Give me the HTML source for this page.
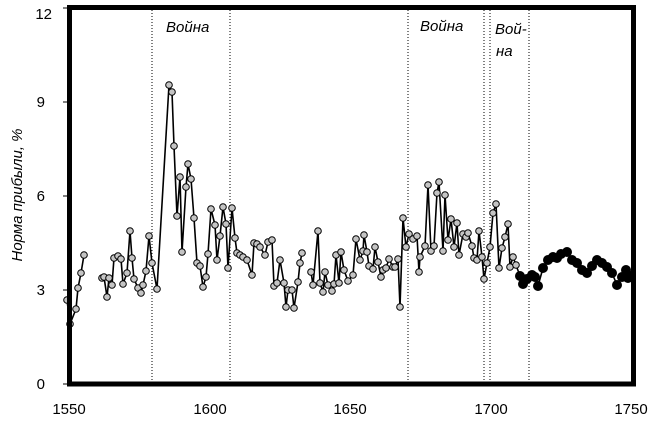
<!DOCTYPE html>
<html><head><meta charset="utf-8"><style>
body{margin:0;background:#fff;}
svg{display:block;font-family:"Liberation Sans",sans-serif;}
</style></head><body>
<svg width="650" height="429" viewBox="0 0 650 429" xmlns="http://www.w3.org/2000/svg">
<rect width="650" height="429" fill="#fff"/>
<g stroke="#000" stroke-width="1" stroke-dasharray="1,2">
<line x1="152" y1="10" x2="152" y2="382"/>
<line x1="230" y1="10" x2="230" y2="382"/>
<line x1="408" y1="10" x2="408" y2="382"/>
<line x1="484" y1="10" x2="484" y2="382"/>
<line x1="490" y1="10" x2="490" y2="382"/>
<line x1="529" y1="10" x2="529" y2="382"/>
</g>
<g font-style="italic" font-size="15" fill="#000">
<text x="166" y="32">Война</text>
<text x="420" y="31">Война</text>
<text x="495" y="34">Вой-</text>
<text x="496" y="56">на</text>
</g>
<g id="series"></g>
<rect x="69.5" y="7.5" width="564" height="376.5" fill="none" stroke="#000" stroke-width="5"/>
<g stroke="#000" stroke-width="1">
<line x1="63" y1="384" x2="67" y2="384"/><line x1="63" y1="290" x2="67" y2="290"/>
<line x1="63" y1="196" x2="67" y2="196"/><line x1="63" y1="102" x2="67" y2="102"/>
<line x1="63" y1="8" x2="67" y2="8"/>
</g>
<g font-size="15" fill="#000" text-anchor="end">
<text x="45" y="389">0</text><text x="45" y="295">3</text><text x="45" y="201">6</text>
<text x="45" y="107">9</text><text x="52" y="19">12</text>
</g>
<g font-size="15" fill="#000" text-anchor="middle">
<text x="69" y="414">1550</text><text x="210" y="414">1600</text><text x="350" y="414">1650</text>
<text x="491" y="414">1700</text><text x="631" y="414">1750</text>
</g>
<text transform="translate(22,195) rotate(-90)" font-size="15" font-style="italic" text-anchor="middle">Норма прибыли, %</text>
</svg>
<script>
var seg1=[[67,300],[70,324],[76,309],[78,288],[81,273],[84,255]];
var seg2=[[102,278],[104,277],[107,297],[109,278],[112,285],[114,258],[118,256],[121,259],[123,284],[127,273],[130,231],[132,258],[134,279],[138,288],[141,293],[143,285],[146,271],[149,236],[152,263],[157,289],[169,85],[172,92],[174,146],[177,216],[180,177],[182,252],[186,187],[188,164],[191,179],[194,218],[197,263],[200,266],[203,287],[206,277],[208,254],[211,209],[215,225],[217,260],[220,236],[223,207],[226,224],[228,268],[232,208],[235,238],[237,253],[240,255],[243,257],[247,260],[252,275],[254,243],[257,244],[260,247],[265,255],[268,242],[272,240],[274,286],[277,283],[280,260],[284,283],[286,307],[288,290],[292,290],[294,308],[298,282],[300,263],[302,253]];
var seg3=[[311,272],[313,285],[318,231],[320,283],[323,292],[325,272],[328,285],[332,291],[334,284],[336,255],[339,283],[341,252],[344,270],[348,281],[353,275],[356,239],[360,260],[363,251],[364,235],[367,252],[369,266],[373,269],[375,247],[378,262],[381,277],[383,270],[386,268],[389,259],[393,267],[395,267],[398,259],[400,307],[403,218],[406,247],[409,234],[413,239],[417,236],[419,272],[420,257],[425,246],[428,185],[431,251],[434,246],[437,193],[439,182],[443,251],[445,195],[448,240],[451,219],[454,247],[457,223],[459,255],[463,234],[466,237],[468,233],[472,246],[474,258],[477,260],[479,231],[482,257],[484,279],[487,263],[490,247],[493,213],[496,204],[499,268],[502,248],[505,237],[508,224],[510,267],[513,257],[516,265],[520,276],[523,284],[527,279],[532,275],[535,277],[538,286],[543,268],[548,260],[553,257],[557,258],[561,254],[567,252],[572,260],[577,263],[582,270],[587,273],[592,266],[597,260],[602,263],[607,267],[612,273],[617,285],[622,277],[626,270],[628,278],[631,276]];
var ns="http://www.w3.org/2000/svg",g=document.getElementById("series");
[seg1,seg2,seg3].forEach(function(s){
 var p=document.createElementNS(ns,"polyline");
 p.setAttribute("points",s.map(function(a){return a.join(",")}).join(" "));
 p.setAttribute("fill","none");p.setAttribute("stroke","#000");p.setAttribute("stroke-width","1.6");
 g.appendChild(p);
});
[seg1,seg2,seg3].forEach(function(s){s.forEach(function(a){
 var c=document.createElementNS(ns,"circle");
 c.setAttribute("cx",a[0]);c.setAttribute("cy",a[1]);
 var dark=a[0]>=519;
 c.setAttribute("r",dark?4.5:3.3);
 c.setAttribute("fill",dark?"#000":"#c4c4c4");
 c.setAttribute("stroke","#000");c.setAttribute("stroke-width","1");
 g.appendChild(c);
});});
</script>
</body></html>
